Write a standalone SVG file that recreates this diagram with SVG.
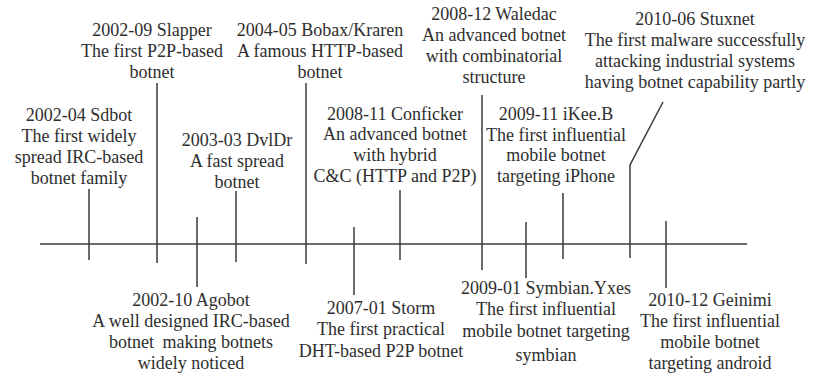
<svg xmlns="http://www.w3.org/2000/svg" width="813" height="376" viewBox="0 0 813 376">
  <rect width="813" height="376" fill="#ffffff"/>

  <!-- timeline axis -->
  <g id="axis" stroke="#3a3a3a" stroke-width="1.5" fill="none">
    <line x1="40" y1="244" x2="747" y2="244"/>
  </g>

  <!-- ticks tying each event label to the axis -->
  <g id="connectors" stroke="#3a3a3a" stroke-width="1.5" fill="none">
    <line x1="89" y1="189" x2="89" y2="260"/>
    <line x1="157" y1="83" x2="157" y2="263"/>
    <line x1="197" y1="217" x2="197" y2="287"/>
    <line x1="236" y1="191" x2="236" y2="262"/>
    <line x1="306" y1="83" x2="306" y2="264"/>
    <line x1="354" y1="227" x2="354" y2="295"/>
    <line x1="400" y1="190" x2="400" y2="260"/>
    <line x1="482" y1="95" x2="482" y2="270"/>
    <line x1="526" y1="222" x2="526" y2="278"/>
    <line x1="563" y1="193" x2="563" y2="259"/>
    <polyline points="663,102 630,165 630,258"/>
    <line x1="666" y1="221" x2="666" y2="288"/>
  </g>

  <!-- event labels -->
  <g id="sdbot" fill="#2e2e2e">
    <text font-family="Liberation Serif" font-size="18" text-anchor="middle" x="79" y="121">2002-04 Sdbot</text>
    <text font-family="Liberation Serif" font-size="18" text-anchor="middle" x="79" y="142">The first widely</text>
    <text font-family="Liberation Serif" font-size="18" text-anchor="middle" x="79" y="163">spread IRC-based</text>
    <text font-family="Liberation Serif" font-size="18" text-anchor="middle" x="79" y="184">botnet family</text>
  </g>

  <g id="slapper" fill="#2e2e2e">
    <text font-family="Times New Roman" font-size="18" text-anchor="middle" x="152" y="36">2002-09 Slapper</text>
    <text font-family="Times New Roman" font-size="18" text-anchor="middle" x="152" y="57">The first P2P-based</text>
    <text font-family="Times New Roman" font-size="18" text-anchor="middle" x="152" y="78">botnet</text>
  </g>

  <g id="dvldr" fill="#2e2e2e">
    <text font-family="serif" font-size="18" text-anchor="middle" x="237" y="146">2003-03 DvlDr</text>
    <text font-family="serif" font-size="18" text-anchor="middle" x="237" y="167">A fast spread</text>
    <text font-family="serif" font-size="18" text-anchor="middle" x="237" y="188">botnet</text>
  </g>

  <g id="bobax" fill="#2e2e2e">
    <text style="font-family:'Liberation Serif',serif" font-size="18" text-anchor="middle" x="320" y="36">2004-05 Bobax/Kraren</text>
    <text style="font-family:'Liberation Serif',serif" font-size="18" text-anchor="middle" x="320" y="57">A famous HTTP-based</text>
    <text style="font-family:'Liberation Serif',serif" font-size="18" text-anchor="middle" x="320" y="78">botnet</text>
  </g>

  <g id="conficker" fill="#2e2e2e">
    <text font-family="Liberation Serif" font-size="18" text-anchor="middle" x="395" y="120">2008-11 Conficker</text>
    <text font-family="Liberation Serif" font-size="18" text-anchor="middle" x="395" y="140">An advanced botnet</text>
    <text font-family="Liberation Serif" font-size="18" text-anchor="middle" x="395" y="161">with hybrid</text>
    <text font-family="Liberation Serif" font-size="18" text-anchor="middle" x="395" y="182">C&amp;C (HTTP and P2P)</text>
  </g>

  <g id="waledac" fill="#2e2e2e">
    <text font-family="Liberation Serif" font-size="18" text-anchor="middle" x="494" y="20">2008-12 Waledac</text>
    <text font-family="Liberation Serif" font-size="18" text-anchor="middle" x="494" y="41">An advanced botnet</text>
    <text font-family="Liberation Serif" font-size="18" text-anchor="middle" x="494" y="62">with combinatorial</text>
    <text font-family="Liberation Serif" font-size="18" text-anchor="middle" x="494" y="83">structure</text>
  </g>

  <g id="ikee" fill="#2e2e2e">
    <text font-family="Liberation Serif" font-size="18" text-anchor="middle" x="556" y="120">2009-11 iKee.B</text>
    <text font-family="Liberation Serif" font-size="18" text-anchor="middle" x="556" y="141">The first influential</text>
    <text font-family="Liberation Serif" font-size="18" text-anchor="middle" x="556" y="161">mobile botnet</text>
    <text font-family="Liberation Serif" font-size="18" text-anchor="middle" x="556" y="182">targeting iPhone</text>
  </g>

  <g id="stuxnet" fill="#2e2e2e">
    <text font-family="Liberation Serif" font-size="18" text-anchor="middle" x="695" y="25">2010-06 Stuxnet</text>
    <text font-family="Liberation Serif" font-size="18" text-anchor="middle" x="695" y="46">The first malware successfully</text>
    <text font-family="Liberation Serif" font-size="18" text-anchor="middle" x="695" y="67">attacking industrial systems</text>
    <text font-family="Liberation Serif" font-size="18" text-anchor="middle" x="695" y="88">having botnet capability partly</text>
  </g>

  <g id="agobot" fill="#2e2e2e">
    <text font-family="Liberation Serif" font-size="18" text-anchor="middle" x="191" y="306">2002-10 Agobot</text>
    <text font-family="Liberation Serif" font-size="18" text-anchor="middle" x="191" y="327">A well designed IRC-based</text>
    <text font-family="Liberation Serif" font-size="18" text-anchor="middle" x="191" y="348">botnet <tspan dx="4">making botnets</tspan></text>
    <text font-family="Liberation Serif" font-size="18" text-anchor="middle" x="191" y="369">widely noticed</text>
  </g>

  <g id="storm" fill="#2e2e2e">
    <text font-family="Liberation Serif" font-size="18" text-anchor="middle" x="381" y="314">2007-01 Storm</text>
    <text font-family="Liberation Serif" font-size="18" text-anchor="middle" x="381" y="335">The first practical</text>
    <text font-family="Liberation Serif" font-size="18" text-anchor="middle" x="381" y="357">DHT-based P2P botnet</text>
  </g>

  <g id="symbian" fill="#2e2e2e">
    <text font-family="Liberation Serif" font-size="18" text-anchor="middle" x="546" y="294">2009-01 Symbian.Yxes</text>
    <text font-family="Liberation Serif" font-size="18" text-anchor="middle" x="546" y="315">The first influential</text>
    <text font-family="Liberation Serif" font-size="18" text-anchor="middle" x="546" y="337">mobile botnet targeting</text>
    <text font-family="Liberation Serif" font-size="18" text-anchor="middle" x="546" y="361">symbian</text>
  </g>

  <g id="geinimi" fill="#2e2e2e">
    <text font-family="Liberation Serif" font-size="18" text-anchor="middle" x="710" y="306">2010-12 Geinimi</text>
    <text font-family="Liberation Serif" font-size="18" text-anchor="middle" x="710" y="327">The first influential</text>
    <text font-family="Liberation Serif" font-size="18" text-anchor="middle" x="710" y="348">mobile botnet</text>
    <text font-family="Liberation Serif" font-size="18" text-anchor="middle" x="710" y="369">targeting android</text>
  </g>
</svg>
